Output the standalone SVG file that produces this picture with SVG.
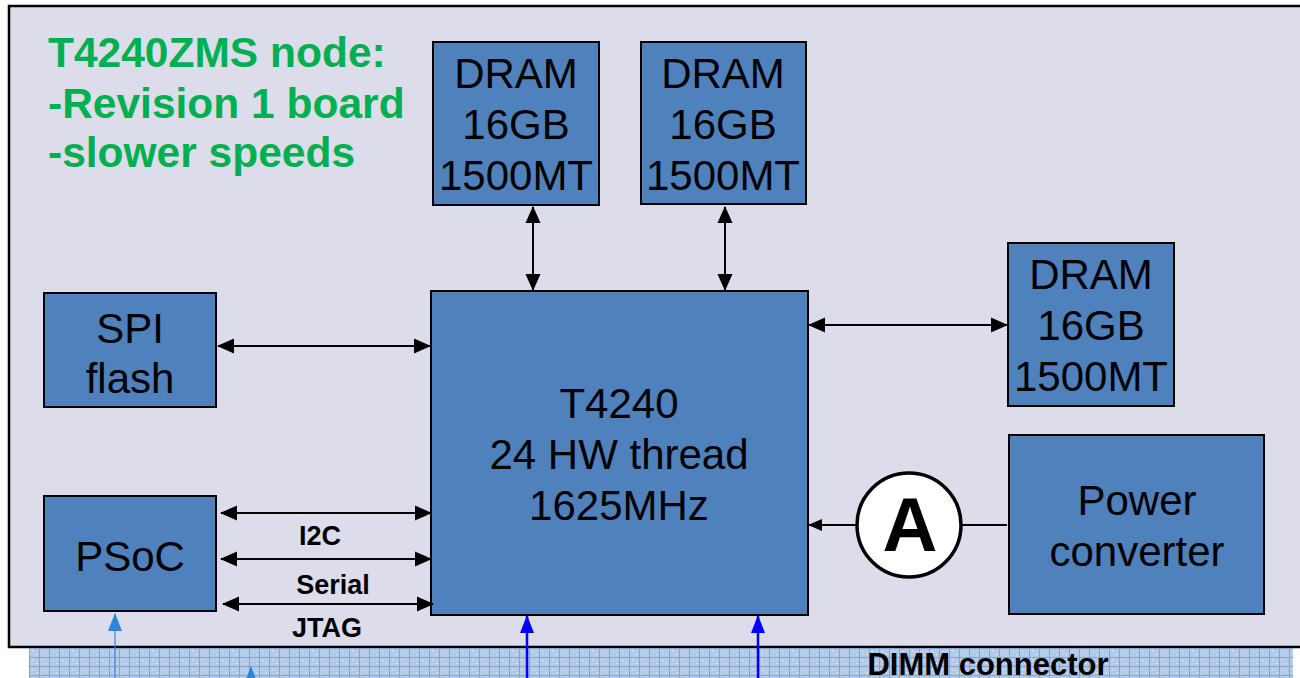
<svg xmlns="http://www.w3.org/2000/svg" width="1300" height="678" viewBox="0 0 1300 678">
<style>
.box{fill:#4F81BD;stroke:#000;stroke-width:2}
.t{font-family:"Liberation Sans",Arial,sans-serif;fill:#000;text-anchor:middle}
.big{font-size:42px}
.lbl{font-size:27px;font-weight:bold}
.title{font-family:"Liberation Sans",Arial,sans-serif;font-size:42.5px;font-weight:bold;fill:#00B050}
.conn{stroke:#000;stroke-width:2;fill:none}
.blue{stroke:#0000FF;stroke-width:2.5;fill:none}
.lblue{stroke:#2F86D6;fill:none}
</style>
<defs>
<marker id="ah" markerUnits="userSpaceOnUse" markerWidth="17" markerHeight="17" viewBox="0 0 17 17" refX="16" refY="8.5" orient="auto-start-reverse">
<path d="M0,1 L17,8.5 L0,16 Z" fill="#000"/>
</marker>
<marker id="ahs" markerUnits="userSpaceOnUse" markerWidth="14" markerHeight="14" viewBox="0 0 14 14" refX="13" refY="7" orient="auto">
<path d="M0,1 L14,7 L0,13 Z" fill="#000"/>
</marker>
<marker id="bh" markerUnits="userSpaceOnUse" markerWidth="18" markerHeight="18" viewBox="0 0 18 18" refX="17" refY="9" orient="auto">
<path d="M0,2 L18,9 L0,16 Z" fill="#0000FF"/>
</marker>
<marker id="lbh" markerUnits="userSpaceOnUse" markerWidth="18" markerHeight="18" viewBox="0 0 18 18" refX="17" refY="9" orient="auto">
<path d="M0,2 L18,9 L0,16 Z" fill="#2F86D6"/>
</marker>
<pattern id="grid" patternUnits="userSpaceOnUse" x="29" y="648" width="10" height="9">
<rect width="10" height="9" fill="#B6CAE6"/>
<path d="M0,0.5 H10 M0.5,0 V9" stroke="#7FA6DA" stroke-width="1"/>
<rect x="3" y="3" width="1" height="1" fill="#E8EEF8"/>
<rect x="7" y="6" width="1" height="1" fill="#E8EEF8"/>
</pattern>
</defs>

<rect x="9" y="6" width="1300" height="641" fill="#DCDCEA" stroke="#000" stroke-width="2.5"/>
<rect x="29" y="648" width="1264" height="30" fill="url(#grid)"/>
<text class="t" x="988" y="675" style="font-size:31px;font-weight:bold">DIMM connector</text>

<g id="title">
<text class="title" x="48" y="67">T4240ZMS node:</text>
<text class="title" x="48" y="118">-Revision 1 board</text>
<text class="title" x="48" y="167">-slower speeds</text>
</g>

<g id="dram1">
<rect class="box" x="433" y="42" width="166" height="163"/>
<text class="t big" x="516" y="88">DRAM</text>
<text class="t big" x="516" y="139">16GB</text>
<text class="t big" x="516" y="190">1500MT</text>
</g>
<g id="dram2">
<rect class="box" x="641" y="42" width="165" height="162"/>
<text class="t big" x="723" y="88">DRAM</text>
<text class="t big" x="723" y="139">16GB</text>
<text class="t big" x="723" y="190">1500MT</text>
</g>
<g id="dram3">
<rect class="box" x="1008" y="243" width="166" height="163"/>
<text class="t big" x="1091" y="289">DRAM</text>
<text class="t big" x="1091" y="340">16GB</text>
<text class="t big" x="1091" y="391">1500MT</text>
</g>
<g id="spi">
<rect class="box" x="44" y="293" width="172" height="114"/>
<text class="t big" x="130" y="343">SPI</text>
<text class="t big" x="130" y="393">flash</text>
</g>
<g id="psoc">
<rect class="box" x="44" y="496" width="172" height="115"/>
<text class="t big" x="130" y="571">PSoC</text>
</g>
<g id="t4240">
<rect class="box" x="431" y="291" width="377" height="324"/>
<text class="t big" x="619" y="418">T4240</text>
<text class="t big" x="619" y="469">24 HW thread</text>
<text class="t big" x="619" y="520">1625MHz</text>
</g>
<g id="power">
<rect class="box" x="1009" y="435" width="255" height="179"/>
<text class="t big" x="1137" y="515">Power</text>
<text class="t big" x="1137" y="566">converter</text>
</g>
<g id="ammeter">
<circle cx="909" cy="525" r="52" fill="#fff" stroke="#000" stroke-width="3.5"/>
<text class="t" x="910" y="551" style="font-size:76px;font-weight:bold">A</text>
</g>

<g id="connectors">
<line class="conn" x1="218" y1="346" x2="430" y2="346" marker-start="url(#ah)" marker-end="url(#ah)"/>
<line class="conn" x1="221" y1="513" x2="431" y2="513" marker-start="url(#ah)" marker-end="url(#ah)"/>
<line class="conn" x1="221" y1="559" x2="431" y2="559" marker-start="url(#ah)" marker-end="url(#ah)"/>
<line class="conn" x1="223" y1="604" x2="433" y2="604" marker-start="url(#ah)" marker-end="url(#ah)"/>
<line class="conn" x1="533" y1="207" x2="533" y2="290" marker-start="url(#ah)" marker-end="url(#ah)"/>
<line class="conn" x1="725" y1="207" x2="725" y2="290" marker-start="url(#ah)" marker-end="url(#ah)"/>
<line class="conn" x1="809" y1="325" x2="1007" y2="325" marker-start="url(#ah)" marker-end="url(#ah)"/>
<line class="conn" x1="1007" y1="525" x2="961" y2="525" stroke-width="1.5"/>
<line class="conn" x1="857" y1="525" x2="809" y2="525" stroke-width="1.5" marker-end="url(#ahs)"/>
<line class="blue" x1="527" y1="678" x2="527" y2="616" marker-end="url(#bh)"/>
<line class="blue" x1="758" y1="678" x2="758" y2="616" marker-end="url(#bh)"/>
<line class="lblue" x1="115" y1="678" x2="115" y2="614" stroke-width="1.2" marker-end="url(#lbh)"/>
<line class="lblue" x1="251" y1="690" x2="251" y2="667" stroke-width="1.2" marker-end="url(#lbh)"/>
<text class="t lbl" x="320" y="545">I2C</text>
<text class="t lbl" x="333" y="594">Serial</text>
<text class="t lbl" x="327" y="637">JTAG</text>
</g>
</svg>
